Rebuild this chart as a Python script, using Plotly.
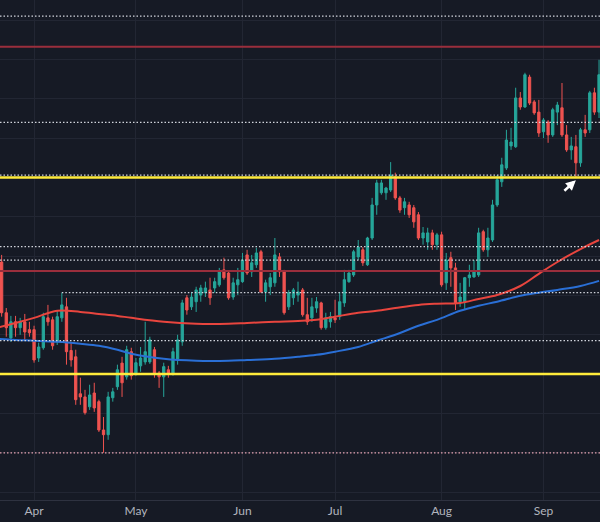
import pandas as pd
import plotly.graph_objects as go

# Daily trading days shown (GBP/USD, weekdays Mar 20 - Sep 18, 2024)
dates = pd.bdate_range("2024-03-20", "2024-09-18")

opens = [1.2740, 1.2785, 1.2656, 1.2592, 1.2633, 1.2618, 1.2633, 1.2613, 1.2613, 1.2541,
         1.2567, 1.2643, 1.2638, 1.2582, 1.2643, 1.2671, 1.2560, 1.2544, 1.2450, 1.2442,
         1.2417, 1.2452, 1.2430, 1.2358, 1.2346, 1.2440, 1.2468, 1.2528, 1.2493, 1.2557,
         1.2503, 1.2521, 1.2531, 1.2531, 1.2562, 1.2503, 1.2493, 1.2511, 1.2503, 1.2536,
         1.2582, 1.2694, 1.2671, 1.2684, 1.2701, 1.2707, 1.2714, 1.2719, 1.2727, 1.2765,
         1.2757, 1.2696, 1.2727, 1.2735, 1.2803, 1.2760, 1.2778, 1.2811, 1.2709, 1.2722,
         1.2732, 1.2798, 1.2760, 1.2671, 1.2694, 1.2701, 1.2714, 1.2651, 1.2643, 1.2668,
         1.2681, 1.2618, 1.2633, 1.2643, 1.2646, 1.2681, 1.2735, 1.2752, 1.2798, 1.2816,
         1.2778, 1.2846, 1.2930, 1.2961, 1.2961, 1.2968, 1.3001, 1.2948, 1.2923, 1.2930,
         1.2923, 1.2905, 1.2846, 1.2836, 1.2859, 1.2829, 1.2854, 1.2732, 1.2796, 1.2770,
         1.2684, 1.2684, 1.2745, 1.2747, 1.2752, 1.2862, 1.2816, 1.2841, 1.2930, 1.2989,
         1.3024, 1.3080, 1.3078, 1.3202, 1.3179, 1.3255, 1.3192, 1.3166, 1.3116, 1.3141,
         1.3108, 1.3166, 1.3177, 1.3108, 1.3070, 1.3078, 1.3037, 1.3121, 1.3121, 1.3215,
         1.3166]
highs = [1.2796, 1.2803, 1.2668, 1.2648, 1.2648, 1.2643, 1.2653, 1.2633, 1.2623, 1.2580,
         1.2656, 1.2676, 1.2646, 1.2663, 1.2707, 1.2694, 1.2580, 1.2562, 1.2491, 1.2460,
         1.2473, 1.2478, 1.2435, 1.2391, 1.2455, 1.2465, 1.2524, 1.2544, 1.2572, 1.2567,
         1.2541, 1.2569, 1.2633, 1.2595, 1.2569, 1.2508, 1.2529, 1.2521, 1.2567, 1.2600,
         1.2689, 1.2701, 1.2709, 1.2722, 1.2727, 1.2735, 1.2745, 1.2745, 1.2770, 1.2796,
         1.2760, 1.2745, 1.2770, 1.2808, 1.2816, 1.2803, 1.2821, 1.2816, 1.2740, 1.2757,
         1.2846, 1.2808, 1.2765, 1.2714, 1.2719, 1.2735, 1.2719, 1.2694, 1.2694, 1.2696,
         1.2684, 1.2656, 1.2658, 1.2689, 1.2709, 1.2765, 1.2765, 1.2816, 1.2841, 1.2823,
         1.2849, 1.2948, 1.2994, 1.2994, 1.2976, 1.3039, 1.3012, 1.2953, 1.2948, 1.2938,
         1.2930, 1.2912, 1.2874, 1.2872, 1.2867, 1.2859, 1.2862, 1.2808, 1.2811, 1.2783,
         1.2732, 1.2747, 1.2778, 1.2790, 1.2872, 1.2867, 1.2872, 1.2943, 1.3006, 1.3050,
         1.3121, 1.3126, 1.3228, 1.3217, 1.3266, 1.3261, 1.3197, 1.3197, 1.3151, 1.3146,
         1.3177, 1.3192, 1.3240, 1.3133, 1.3103, 1.3108, 1.3126, 1.3159, 1.3220, 1.3228,
         1.3299]
lows = [1.2727, 1.2646, 1.2595, 1.2582, 1.2595, 1.2600, 1.2587, 1.2595, 1.2529, 1.2531,
        1.2562, 1.2623, 1.2562, 1.2574, 1.2633, 1.2524, 1.2519, 1.2422, 1.2422, 1.2397,
        1.2409, 1.2404, 1.2353, 1.2300, 1.2333, 1.2430, 1.2460, 1.2442, 1.2486, 1.2486,
        1.2496, 1.2506, 1.2524, 1.2526, 1.2491, 1.2465, 1.2442, 1.2491, 1.2496, 1.2524,
        1.2572, 1.2651, 1.2663, 1.2658, 1.2684, 1.2696, 1.2676, 1.2707, 1.2722, 1.2740,
        1.2689, 1.2689, 1.2701, 1.2732, 1.2752, 1.2747, 1.2770, 1.2707, 1.2684, 1.2701,
        1.2722, 1.2747, 1.2651, 1.2663, 1.2676, 1.2684, 1.2646, 1.2625, 1.2633, 1.2656,
        1.2613, 1.2613, 1.2618, 1.2630, 1.2638, 1.2671, 1.2732, 1.2747, 1.2790, 1.2775,
        1.2775, 1.2841, 1.2905, 1.2956, 1.2943, 1.2963, 1.2943, 1.2910, 1.2905, 1.2897,
        1.2872, 1.2841, 1.2829, 1.2816, 1.2816, 1.2816, 1.2722, 1.2714, 1.2722, 1.2663,
        1.2671, 1.2663, 1.2722, 1.2745, 1.2747, 1.2811, 1.2798, 1.2836, 1.2925, 1.2976,
        1.3019, 1.3070, 1.3075, 1.3172, 1.3177, 1.3184, 1.3159, 1.3103, 1.3100, 1.3088,
        1.3103, 1.3133, 1.3103, 1.3065, 1.3045, 1.3001, 1.3027, 1.3103, 1.3113, 1.3159,
        1.3151]
closes = [1.2785, 1.2656, 1.2618, 1.2633, 1.2618, 1.2633, 1.2607, 1.2605, 1.2536, 1.2569,
          1.2646, 1.2633, 1.2572, 1.2646, 1.2676, 1.2557, 1.2536, 1.2435, 1.2442, 1.2402,
          1.2447, 1.2414, 1.2358, 1.2346, 1.2442, 1.2455, 1.2511, 1.2478, 1.2562, 1.2496,
          1.2529, 1.2541, 1.2557, 1.2587, 1.2503, 1.2493, 1.2519, 1.2503, 1.2557, 1.2587,
          1.2681, 1.2663, 1.2696, 1.2714, 1.2719, 1.2719, 1.2694, 1.2735, 1.2760, 1.2745,
          1.2694, 1.2732, 1.2740, 1.2790, 1.2757, 1.2783, 1.2808, 1.2709, 1.2732, 1.2745,
          1.2803, 1.2760, 1.2656, 1.2707, 1.2714, 1.2709, 1.2651, 1.2633, 1.2671, 1.2684,
          1.2618, 1.2643, 1.2646, 1.2638, 1.2684, 1.2740, 1.2757, 1.2811, 1.2823, 1.2783,
          1.2846, 1.2930, 1.2986, 1.2986, 1.2973, 1.3006, 1.2948, 1.2917, 1.2938, 1.2905,
          1.2887, 1.2846, 1.2859, 1.2859, 1.2829, 1.2854, 1.2727, 1.2790, 1.2770, 1.2681,
          1.2696, 1.2745, 1.2752, 1.2760, 1.2859, 1.2816, 1.2846, 1.2930, 1.2994, 1.3032,
          1.3095, 1.3090, 1.3202, 1.3179, 1.3261, 1.3189, 1.3164, 1.3113, 1.3146, 1.3108,
          1.3172, 1.3184, 1.3108, 1.3070, 1.3080, 1.3037, 1.3121, 1.3113, 1.3215, 1.3166,
          1.3261]

# Moving averages (read at sample dates)
ma_dates = ["2024-03-20", "2024-03-26", "2024-04-01", "2024-04-08", "2024-04-15", "2024-04-19",
            "2024-04-25", "2024-04-30", "2024-05-09", "2024-05-20", "2024-05-29", "2024-06-04",
            "2024-06-12", "2024-06-19", "2024-06-25", "2024-07-01", "2024-07-08", "2024-07-12",
            "2024-07-18", "2024-07-25", "2024-07-31", "2024-08-07", "2024-08-13", "2024-08-19",
            "2024-08-26", "2024-08-30", "2024-09-05", "2024-09-12", "2024-09-18"]
ma_red = [1.2618, 1.2630, 1.2643, 1.2661, 1.2658, 1.2653, 1.2648, 1.2643, 1.2633, 1.2628,
          1.2628, 1.2630, 1.2633, 1.2635, 1.2638, 1.2646, 1.2656, 1.2661, 1.2668, 1.2676,
          1.2679, 1.2681, 1.2691, 1.2701, 1.2724, 1.2755, 1.2785, 1.2818, 1.2841]
ma_blue = [1.2590, 1.2587, 1.2585, 1.2582, 1.2577, 1.2572, 1.2562, 1.2552, 1.2539, 1.2534,
           1.2534, 1.2536, 1.2539, 1.2544, 1.2549, 1.2557, 1.2569, 1.2585, 1.2600, 1.2623,
           1.2638, 1.2661, 1.2674, 1.2684, 1.2699, 1.2707, 1.2714, 1.2724, 1.2737]

# Horizontal levels
yellow_levels = [1.3000, 1.2500]
red_levels = [1.3332, 1.2762]
dotted_levels = [1.3410, 1.3140, 1.3006, 1.2824, 1.2790, 1.2585]
partial_dotted_level = 1.2707
partial_dotted_start = "2024-04-09"
bottom_level = 1.2300

month_ticks = ["2024-04-01", "2024-05-01", "2024-06-03", "2024-07-01", "2024-08-01", "2024-09-02"]
month_labels = ["Apr", "May", "Jun", "Jul", "Aug", "Sep"]

arrow_date = "2024-09-11"
arrow_price = 1.2993

BG = "#161a25"
GRID = "#222633"
DOT = "1.5px,2px"

fig = go.Figure()
fig.add_trace(go.Candlestick(
    x=dates, open=opens, high=highs, low=lows, close=closes,
    increasing=dict(line=dict(color="#26a69a", width=1), fillcolor="#26a69a"),
    decreasing=dict(line=dict(color="#ef5350", width=1), fillcolor="#ef5350"),
    whiskerwidth=0, showlegend=False, hoverinfo="skip"))
fig.add_trace(go.Scatter(x=ma_dates, y=ma_red, mode="lines",
                         line=dict(color="#e8453e", width=2, shape="spline"),
                         showlegend=False, hoverinfo="skip"))
fig.add_trace(go.Scatter(x=ma_dates, y=ma_blue, mode="lines",
                         line=dict(color="#2a6fd6", width=2, shape="spline"),
                         showlegend=False, hoverinfo="skip"))

for lv in dotted_levels:
    fig.add_shape(type="line", xref="paper", x0=0, x1=1, y0=lv, y1=lv,
                  line=dict(color="#d1d4dc", width=1.2, dash=DOT), layer="above")
fig.add_shape(type="line", xref="x", x0=partial_dotted_start, x1="2024-09-30",
              y0=partial_dotted_level, y1=partial_dotted_level,
              line=dict(color="#d1d4dc", width=1.2, dash=DOT), layer="above")
fig.add_shape(type="line", xref="paper", x0=0, x1=1, y0=bottom_level, y1=bottom_level,
              line=dict(color="#e3a3b3", width=1.2, dash=DOT), layer="above")
for lv in red_levels:
    fig.add_shape(type="line", xref="paper", x0=0, x1=1, y0=lv, y1=lv,
                  line=dict(color="#9a2e3c", width=2), layer="above")
for lv in yellow_levels:
    fig.add_shape(type="line", xref="paper", x0=0, x1=1, y0=lv, y1=lv,
                  line=dict(color="#ffeb3b", width=2.5), layer="above")

fig.add_annotation(x=arrow_date, y=arrow_price, ax=-13, ay=12, showarrow=True,
                   arrowhead=2, arrowsize=0.8, arrowwidth=2.5, arrowcolor="#ffffff", text="")

fig.update_xaxes(
    type="date",
    range=["2024-03-20 15:30", "2024-09-18 05:00"],
    rangebreaks=[dict(bounds=["sat", "mon"])],
    tickvals=month_ticks, ticktext=month_labels,
    showgrid=True, gridcolor=GRID, gridwidth=1,
    showline=True, linecolor="#2e3240", linewidth=1,
    tickfont=dict(family="Lato, sans-serif", size=12, color="#b2b5be"),
    ticks="", rangeslider=dict(visible=False), zeroline=False, fixedrange=True)
fig.update_yaxes(
    range=[1.2180, 1.3451], dtick=0.01, tick0=1.23,
    showgrid=True, gridcolor=GRID, gridwidth=1,
    showticklabels=False, zeroline=False, fixedrange=True)

fig.update_layout(
    width=600, height=522,
    margin=dict(l=0, r=0, t=0, b=22),
    paper_bgcolor=BG, plot_bgcolor=BG,
    showlegend=False)

fig.write_html("out.html")
